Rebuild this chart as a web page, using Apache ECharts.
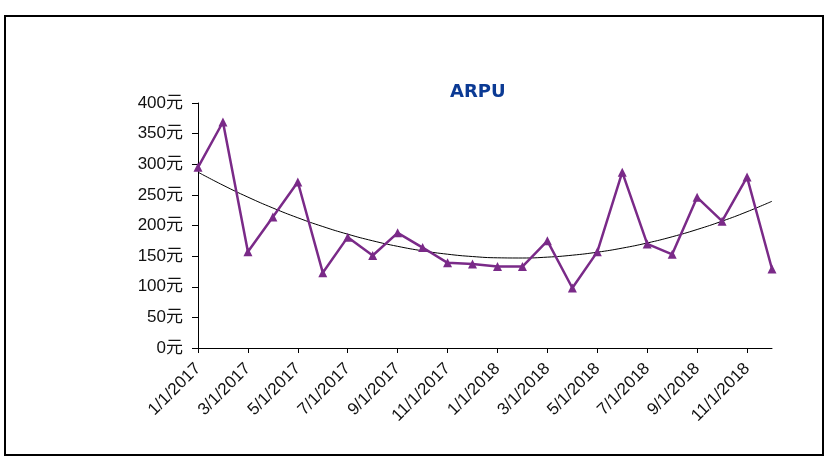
<!DOCTYPE html>
<html>
<head>
<meta charset="utf-8">
<script src="https://cdn.jsdelivr.net/npm/echarts@6/dist/echarts.min.js"></script>
<style>
  html, body { margin: 0; padding: 0; background: #fff; }
  #chart { width: 833px; height: 469px; }
</style>
</head>
<body>
<div id="chart"></div>
<script>
// months shown on the x axis
var months = ['1/1/2017','2/1/2017','3/1/2017','4/1/2017','5/1/2017','6/1/2017',
  '7/1/2017','8/1/2017','9/1/2017','10/1/2017','11/1/2017','12/1/2017',
  '1/1/2018','2/1/2018','3/1/2018','4/1/2018','5/1/2018','6/1/2018',
  '7/1/2018','8/1/2018','9/1/2018','10/1/2018','11/1/2018','12/1/2018'];
// ARPU per month (yuan)
var arpu = [295, 369, 157, 214, 271, 123, 181, 151, 188, 164, 139, 137,
  133, 133, 175, 98, 157, 287, 170, 153, 246, 207, 279, 129];

// 2nd order polynomial trendline (least squares, like Excel)
function polyTrend(ys) {
  var n = ys.length, s = [0,0,0,0,0], t = [0,0,0];
  for (var i = 0; i < n; i++) {
    var x = i + 1, p = 1;
    for (var k = 0; k < 5; k++) { s[k] += p; if (k < 3) t[k] += p * ys[i]; p *= x; }
  }
  // solve 3x3 normal equations
  var m = [[s[0], s[1], s[2], t[0]], [s[1], s[2], s[3], t[1]], [s[2], s[3], s[4], t[2]]];
  for (var c = 0; c < 3; c++) {
    for (var r = c + 1; r < 3; r++) {
      var f = m[r][c] / m[c][c];
      for (var j = c; j < 4; j++) m[r][j] -= f * m[c][j];
    }
  }
  var b = [0,0,0];
  for (var r2 = 2; r2 >= 0; r2--) {
    var v = m[r2][3];
    for (var j2 = r2 + 1; j2 < 3; j2++) v -= m[r2][j2] * b[j2];
    b[r2] = v / m[r2][r2];
  }
  return ys.map(function (_, i) { var x = i + 1; return b[0] + b[1] * x + b[2] * x * x; });
}
var trend = polyTrend(arpu);

var chart = echarts.init(document.getElementById('chart'));
var font = "Arial, 'Liberation Sans', 'Noto Sans CJK SC', sans-serif";

var option = {
  backgroundColor: '#fff',
  animation: false,
  title: {
    text: 'ARPU',
    left: 445,
    top: 78,
    textStyle: { fontFamily: "'DejaVu Sans', sans-serif", fontSize: 18, fontWeight: 'bold', color: '#0b3a94' }
  },
  graphic: [{
    type: 'rect',
    shape: { x: 5, y: 16, width: 818, height: 439 },
    style: { fill: 'none', stroke: '#000', lineWidth: 2 },
    silent: true
  }],
  grid: { left: 198, right: 61, top: 103, bottom: 121, containLabel: false },
  xAxis: {
    type: 'category',
    data: months,
    boundaryGap: false,
    axisLine: { lineStyle: { color: '#000', width: 1 } },
    axisTick: { interval: 1, length: 5, lineStyle: { color: '#000' } },
    axisLabel: {
      interval: 1,
      rotate: 45,
      margin: 18,
      fontFamily: font,
      fontSize: 17,
      color: '#111'
    },
    splitLine: { show: false }
  },
  yAxis: {
    type: 'value',
    min: 0,
    max: 400,
    interval: 50,
    axisLine: { show: true, lineStyle: { color: '#000', width: 1 } },
    axisTick: { show: true, length: 6, lineStyle: { color: '#000' } },
    axisLabel: {
      formatter: '{value}元',
      margin: 15,
      fontFamily: font,
      fontSize: 17,
      color: '#111'
    },
    splitLine: { show: false }
  },
  series: [{
    name: 'ARPU',
    type: 'line',
    data: arpu,
    symbol: 'triangle',
    symbolSize: 9,
    lineStyle: { color: '#7a2a88', width: 2.5 },
    itemStyle: { color: '#7a2a88' },
    z: 3
  }, {
    name: 'trend',
    type: 'line',
    data: trend,
    smooth: true,
    symbol: 'none',
    lineStyle: { color: '#000', width: 1 },
    z: 2
  }]
};
chart.setOption(option);
</script>
</body>
</html>
